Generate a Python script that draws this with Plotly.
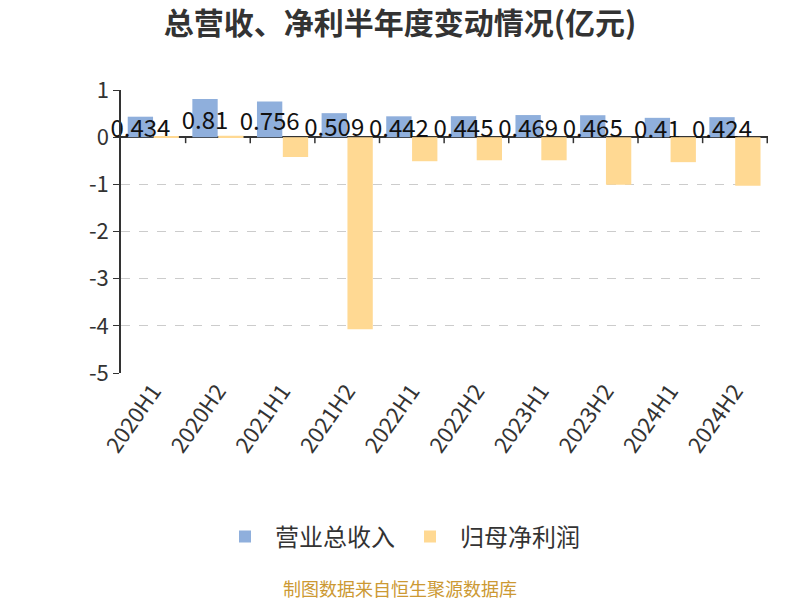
import plotly.graph_objects as go

categories = ["2020H1", "2020H2", "2021H1", "2021H2", "2022H1", "2022H2",
              "2023H1", "2023H2", "2024H1", "2024H2"]
revenue = [0.434, 0.81, 0.756, 0.509, 0.442, 0.445, 0.469, 0.465, 0.41, 0.424]
net_profit = [0.005, 0.03, -0.42, -4.07, -0.51, -0.49, -0.49, -1.01, -0.53, -1.03]
revenue_labels = ["0.434", "0.81", "0.756", "0.509", "0.442", "0.445", "0.469", "0.465", "0.41", "0.424"]
y_ticks = [1, 0, -1, -2, -3, -4, -5]
y_tick_text = ["1", "0", "-1", "-2", "-3", "-4", "-5"]

FONT = "Noto Sans CJK SC, Noto Sans, sans-serif"

W, H = 800, 600
L, R, T, B = 121, 32, 90, 227
PW = W - L - R
PH = H - T - B

fig = go.Figure()
fig.add_trace(go.Bar(
    name="营业总收入", x=categories, y=revenue,
    marker=dict(color="#8FAFDC", line=dict(width=0)),
    text=revenue_labels, textposition="inside", insidetextanchor="middle",
    textangle=0,
    textfont=dict(color="#111111", size=24, family=FONT),
    constraintext="none", cliponaxis=False,
))
fig.add_trace(go.Bar(
    name="归母净利润", x=categories, y=net_profit,
    marker=dict(color="#FFD993", line=dict(width=0)),
))

shapes = []
for i in range(len(categories)):
    shapes.append(dict(type="line", xref="x", yref="y", x0=i + 0.5, x1=i + 0.5,
                       ysizemode="pixel", yanchor=0, y0=0, y1=-6,
                       line=dict(color="#333333", width=1.5)))

fig.update_layout(
    width=W, height=H,
    paper_bgcolor="white", plot_bgcolor="white",
    margin=dict(l=L, r=R, t=T, b=B, autoexpand=False),
    title=dict(text="<b>总营收、净利半年度变动情况(亿元)</b>",
               x=0.5, xanchor="center",
               y=1 - 23 / H, yanchor="middle",
               font=dict(size=30, color="#333333", family=FONT)),
    barmode="group", bargap=0.2, bargroupgap=0.02,
    uniformtext=dict(minsize=24, mode="show"),
    font=dict(family=FONT, color="#333333"),
    xaxis=dict(showline=False, ticks="", tickangle=-55,
               tickfont=dict(size=22, color="#333333"), showgrid=False),
    yaxis=dict(range=[-5, 1], tickvals=y_ticks, ticktext=y_tick_text,
               showline=True, linecolor="#333333",
               linewidth=1.5, ticks="outside", ticklen=6, tickcolor="#333333",
               tickfont=dict(size=22, color="#333333"),
               showgrid=True, gridcolor="#cccccc", griddash="dash", gridwidth=1,
               zeroline=True, zerolinecolor="#333333", zerolinewidth=1.5),
    legend=dict(orientation="h", x=(400 - L) / PW, xanchor="center",
                y=-(537 - (T + PH)) / PH, yanchor="middle",
                font=dict(size=24, color="#333333"), itemwidth=50,
                traceorder="normal"),
    showlegend=True,
    shapes=shapes,
    annotations=[dict(text="制图数据来自恒生聚源数据库", xref="paper", yref="paper",
                      x=(400 - L) / PW, y=-(588 - (T + PH)) / PH,
                      showarrow=False, xanchor="center", yanchor="middle",
                      font=dict(size=18, color="#CC9933", family=FONT))],
)

fig.write_html("out.html",
               config={"displayModeBar": False},
               post_script="document.body.style.margin='0';document.body.style.overflow='hidden';")
